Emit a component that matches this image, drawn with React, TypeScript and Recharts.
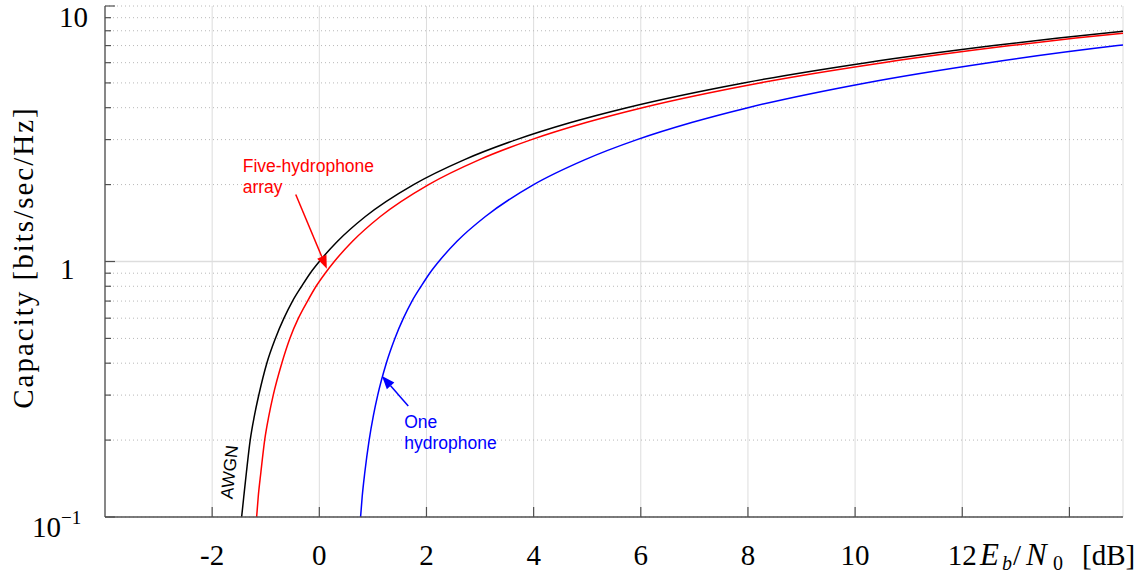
import React from "react";
import {
  LineChart,
  Line,
  XAxis,
  YAxis,
  CartesianGrid,
  ReferenceLine,
  ReferenceDot,
} from "recharts";

// values (Eb/N0 in dB, capacity in bits/sec/Hz)
const awgnDb = [-1.45, -1.41, -1.36, -1.29, -1.21, -1.13, -0.98, -0.82, -0.66, -0.5, -0.33, -0.17, 0, 0.34, 0.86, 1.76, 2.7, 3.68, 4.69, 5.74, 7.92, 10.21, 12.59, 13.8, 15];
const awgnCap = [0.1, 0.12, 0.15, 0.2, 0.25, 0.3, 0.4, 0.5, 0.6, 0.7, 0.8, 0.9, 1, 1.2, 1.5, 2, 2.5, 3, 3.5, 4, 5, 6, 7, 7.5, 7.96];

const arrayDb = [-1.17, -1.14, -1.09, -1.02, -0.94, -0.86, -0.7, -0.55, -0.39, -0.22, -0.06, 0.11, 0.28, 0.62, 1.14, 2.04, 2.98, 3.96, 4.98, 6.03, 8.22, 10.52, 12.9, 14.12, 15];
const arrayCap = [0.1, 0.12, 0.15, 0.2, 0.25, 0.3, 0.4, 0.5, 0.6, 0.7, 0.8, 0.9, 1, 1.2, 1.5, 2, 2.5, 3, 3.5, 4, 5, 6, 7, 7.5, 7.83];

const oneDb = [0.77, 0.8, 0.85, 0.93, 1.01, 1.09, 1.25, 1.41, 1.57, 1.73, 1.9, 2.06, 2.23, 2.57, 3.1, 4.0, 4.95, 5.93, 6.95, 8.0, 10.2, 12.5, 14.9, 15];
const oneCap = [0.1, 0.12, 0.15, 0.2, 0.25, 0.3, 0.4, 0.5, 0.6, 0.7, 0.8, 0.9, 1, 1.2, 1.5, 2, 2.5, 3, 3.5, 4, 5, 6, 7, 7.04];

const xTicks = [-2, 0, 2, 4, 6, 8, 10, 12, 14];
const xTickLabels = ["-2", "0", "2", "4", "6", "8", "10", "12", ""];
const yTicks = [0.1, 0.2, 0.3, 0.4, 0.5, 0.6, 0.7, 0.8, 0.9, 1, 2, 3, 4, 5, 6, 7, 8, 9, 10];
const yMajor = [0.1, 1, 10];

// annotation anchors (dB, capacity)
const arrayArrow = [{ x: -0.44, y: 1.83 }, { x: 0.14, y: 0.937 }];
const oneArrow = [{ x: 1.66, y: 0.272 }, { x: 1.17, y: 0.356 }];
const awgnLabelAt = { x: -1.68, y: 0.15 };

const toPoints = (db: number[], cap: number[]) => db.map((d, i) => ({ db: d, c: cap[i] }));
const awgnData = toPoints(awgnDb, awgnCap);
const arrayData = toPoints(arrayDb, arrayCap);
const oneData = toPoints(oneDb, oneCap);

const SERIF = "'Liberation Serif', 'Times New Roman', serif";
const SANS = "'Liberation Sans', Arial, Helvetica, sans-serif";
const AXIS = "#505050";

const BottomTick = (props: any) => {
  const { x, y, payload } = props;
  const i = xTicks.indexOf(payload.value);
  return (
    <g>
      <line x1={x} x2={x} y1={y} y2={y - 10} stroke={AXIS} strokeWidth={1.2} />
      <text x={x} y={y + 48} textAnchor="middle" fontFamily={SERIF} fontSize={29} fill="#000">
        {xTickLabels[i]}
      </text>
    </g>
  );
};

const TopTick = (props: any) => {
  const { x, y } = props;
  return <line x1={x} x2={x} y1={y} y2={y + 10} stroke={AXIS} strokeWidth={1.2} />;
};

const LeftTick = (props: any) => {
  const { x, y, payload } = props;
  const v = payload.value;
  const major = yMajor.includes(v);
  let label = null;
  if (v === 10) {
    label = (
      <text x={x - 17} y={y + 21} textAnchor="end" fontFamily={SERIF} fontSize={29} fill="#000">10</text>
    );
  } else if (v === 1) {
    label = (
      <text x={x - 45} y={y + 17} textAnchor="start" fontFamily={SERIF} fontSize={29} fill="#000">1</text>
    );
  } else if (v === 0.1) {
    label = (
      <text x={x - 73} y={y + 20} textAnchor="start" fontFamily={SERIF} fontSize={29} fill="#000">
        10<tspan dy={-13} fontSize={19}>−1</tspan>
      </text>
    );
  }
  return (
    <g>
      <line x1={x} x2={x + (major ? 10 : 6)} y1={y} y2={y} stroke={AXIS} strokeWidth={1.2} />
      {label}
    </g>
  );
};

const RightTick = (props: any) => {
  const { x, y, payload } = props;
  const major = yMajor.includes(payload.value);
  return <line x1={x} x2={x - (major ? 10 : 6)} y1={y} y2={y} stroke={AXIS} strokeWidth={1.2} />;
};

const YLabel = (props: any) => {
  const vb = props.viewBox || { x: 0, y: 0, width: 0, height: 0 };
  const cx = 33;
  const cy = vb.y + vb.height / 2 - 4;
  return (
    <text
      x={cx}
      y={cy}
      transform={`rotate(-90 ${cx} ${cy})`}
      textAnchor="middle"
      fontFamily={SERIF}
      fontSize={29}
      letterSpacing={2}
      fill="#000"
    >
      Capacity [bits/sec/Hz]
    </text>
  );
};

const XLabel = (props: any) => {
  const vb = props.viewBox || { x: 0, y: 0, width: 0, height: 0 };
  const r = vb.x + vb.width;
  const base = vb.y + 48;
  return (
    <text y={base} fontFamily={SERIF} fontSize={29} fill="#000">
      <tspan x={r - 143} fontSize={31} fontStyle="italic">E</tspan>
      <tspan x={r - 121} dy={5} fontSize={20} fontStyle="italic">b</tspan>
      <tspan x={r - 110} dy={-5}>/</tspan>
      <tspan x={r - 97} fontSize={31} fontStyle="italic">N</tspan>
      <tspan x={r - 70} dy={5} fontSize={20}>0</tspan>
      <tspan x={r - 41} dy={-5}>[dB]</tspan>
    </text>
  );
};

const makeArrow = (color: string, lines: string[], dx: number, dy: number) => (props: any) => {
  const { x1, y1, x2, y2 } = props;
  const ang = Math.atan2(y2 - y1, x2 - x1);
  const len = 13;
  const half = 5;
  const bx = x2 - len * Math.cos(ang);
  const by = y2 - len * Math.sin(ang);
  const px = -Math.sin(ang) * half;
  const py = Math.cos(ang) * half;
  return (
    <g>
      <line x1={x1} y1={y1} x2={bx} y2={by} stroke={color} strokeWidth={1.5} />
      <polygon points={`${x2},${y2} ${bx + px},${by + py} ${bx - px},${by - py}`} fill={color} />
      <text x={x1 + dx} y={y1 + dy} fontFamily={SANS} fontSize={17.5} fill={color}>
        {lines.map((t, i) => (
          <tspan key={i} x={x1 + dx} dy={i === 0 ? 0 : 21}>
            {t}
          </tspan>
        ))}
      </text>
    </g>
  );
};

const ArrayArrow = makeArrow("#ff0000", ["Five-hydrophone", "array"], -53, -22.5);
const OneArrow = makeArrow("#0000ff", ["One", "hydrophone"], -4, 21.6);

const AwgnText = (props: any) => {
  const { cx, cy } = props;
  return (
    <text
      x={cx}
      y={cy}
      transform={`rotate(-84 ${cx} ${cy})`}
      textAnchor="middle"
      dominantBaseline="central"
      fontFamily={SANS}
      fontSize={17.5}
      fill="#000"
    >
      AWGN
    </text>
  );
};

export default function App() {
  return (
    <div style={{ position: "absolute", left: 0, top: 0, background: "#fff" }}>
      <LineChart width={1141} height={577} margin={{ top: 6, right: 18, left: 0, bottom: 0 }}>
        <CartesianGrid horizontal={false} stroke="#dddddd" strokeWidth={1} />
        <CartesianGrid vertical={false} stroke="#b8b8b8" strokeDasharray="1 3" />
        <CartesianGrid vertical={false} horizontalValues={[1]} stroke="#dddddd" strokeWidth={1.5} />
        <XAxis
          dataKey="db"
          type="number"
          domain={[-4, 15]}
          ticks={xTicks}
          interval={0}
          allowDataOverflow
          height={60}
          tickSize={0}
          tickMargin={0}
          tick={<BottomTick />}
          axisLine={{ stroke: AXIS, strokeWidth: 1.3 }}
          label={<XLabel />}
        />
        <XAxis
          xAxisId="top"
          orientation="top"
          dataKey="db"
          type="number"
          domain={[-4, 15]}
          ticks={xTicks}
          interval={0}
          allowDataOverflow
          height={0}
          tickSize={0}
          tickMargin={0}
          tick={<TopTick />}
          axisLine={{ stroke: AXIS, strokeWidth: 1.3 }}
        />
        <YAxis
          type="number"
          scale="log"
          domain={[0.1, 10]}
          ticks={yTicks}
          interval={0}
          allowDataOverflow
          width={105}
          tickSize={0}
          tickMargin={0}
          tick={<LeftTick />}
          axisLine={{ stroke: AXIS, strokeWidth: 1.3 }}
          label={<YLabel />}
        />
        <YAxis
          yAxisId="r"
          orientation="right"
          type="number"
          scale="log"
          domain={[0.1, 10]}
          ticks={yTicks}
          interval={0}
          allowDataOverflow
          width={0}
          tickSize={0}
          tickMargin={0}
          tick={<RightTick />}
          axisLine={{ stroke: AXIS, strokeWidth: 1.3 }}
        />
        <Line data={awgnData} dataKey="c" type="monotone" stroke="#000000" strokeWidth={1.5} dot={false} isAnimationActive={false} />
        <Line data={arrayData} dataKey="c" type="monotone" stroke="#ff0000" strokeWidth={1.5} dot={false} isAnimationActive={false} />
        <Line data={oneData} dataKey="c" type="monotone" stroke="#0000ff" strokeWidth={1.5} dot={false} isAnimationActive={false} />
        <ReferenceLine segment={arrayArrow} shape={ArrayArrow} />
        <ReferenceLine segment={oneArrow} shape={OneArrow} />
        <ReferenceDot x={awgnLabelAt.x} y={awgnLabelAt.y} shape={AwgnText} />
      </LineChart>
    </div>
  );
}
